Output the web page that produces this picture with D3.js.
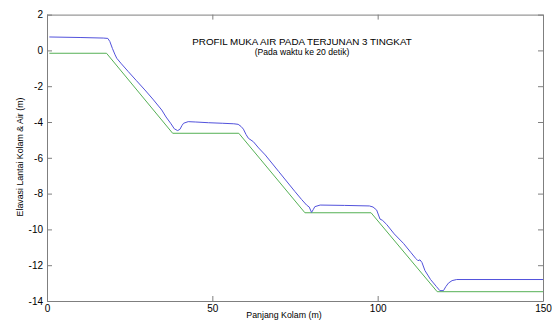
<!DOCTYPE html>
<html>
<head>
<meta charset="utf-8">
<script src="https://cdn.jsdelivr.net/npm/d3@7"></script>
<style>
    body { margin: 0; background: #ffffff; }
    text { font-family: "Liberation Sans", Arial, sans-serif; fill: #000000; }
</style>
</head>
<body>
<div id="chart"></div>
<script>
// Tick values
var xTicks = [0, 50, 100, 150];
var yTicks = [-14, -12, -10, -8, -6, -4, -2, 0, 2];

// Panjang kolam (m) vs elevasi muka air (m)
var airX = [0.7, 10, 17, 18.4, 19.0, 19.8, 20.6, 21.1, 22.5, 24.6, 27, 29.6, 32, 34.7, 36, 37.5, 38.5, 39.5,
    40.2, 40.8, 41.3, 42.7, 45, 48.8, 53, 56.5, 57.8, 58.7, 59.4, 60.2, 60.9, 62.4, 64, 66, 70, 75, 77,
    78.5, 79.3, 80, 80.5, 81, 82.6, 90, 97.5, 98.6, 99.7, 100.7, 101.5, 102.7, 105, 107.8, 110, 111.5,
    112.2, 112.8, 113.4, 114.3, 116, 117.8, 118.8, 119.9, 120.6, 121.4, 122.5, 123.9, 150];
var airY = [0.75, 0.72, 0.69, 0.67, 0.5, 0.1, -0.25, -0.44, -0.75, -1.19, -1.68, -2.21, -2.72, -3.33, -3.72,
    -4.1, -4.38, -4.48, -4.41, -4.2, -4.07, -3.98, -4.0, -4.04, -4.07, -4.1, -4.13, -4.25, -4.4, -4.7,
    -4.91, -5.1, -5.45, -5.84, -6.75, -7.89, -8.33, -8.64, -8.75, -9.05, -8.9, -8.73, -8.64, -8.66,
    -8.69, -8.75, -8.92, -9.42, -9.5, -9.72, -10.25, -10.78, -11.28, -11.62, -11.75, -11.7, -11.85,
    -12.3, -12.8, -13.2, -13.42, -13.42, -13.2, -13.0, -12.86, -12.8, -12.8];

// Panjang kolam (m) vs elevasi lantai kolam (m)
var lantaiX = [0.7, 18, 38, 58, 78, 98, 118, 150];
var lantaiY = [-0.16, -0.16, -4.63, -4.63, -9.07, -9.07, -13.48, -13.48];

var width = 552, height = 323;
var margin = { top: 14.6, right: 9, bottom: 22, left: 47 };

var svg = d3.select("#chart")
    .append("svg")
    .attr("width", width)
    .attr("height", height);

var x = d3.scaleLinear()
    .domain([0, 150])
    .range([margin.left, width - margin.right]);

var y = d3.scaleLinear()
    .domain([-14, 2])
    .range([height - margin.bottom, margin.top]);

var axisColor = "#7f7f7f";
var tickLen = 5;
// plain hyphen for negative numbers, like the original
var fmt = d => String(d);

// Bottom and left axes with tick labels, ticks pointing inward
svg.append("g")
    .attr("transform", "translate(0," + y(-14) + ")")
    .call(d3.axisBottom(x).tickValues(xTicks).tickFormat(fmt).tickSizeInner(-tickLen).tickSizeOuter(0).tickPadding(4))
    .call(g => g.select(".domain").attr("stroke", axisColor))
    .call(g => g.selectAll(".tick line").attr("stroke", axisColor))
    .call(g => g.selectAll(".tick text").attr("font-size", 10).attr("font-family", "Liberation Sans, Arial, sans-serif"));

svg.append("g")
    .attr("transform", "translate(" + x(0) + ",0)")
    .call(d3.axisLeft(y).tickValues(yTicks).tickFormat(fmt).tickSizeInner(-tickLen).tickSizeOuter(0).tickPadding(4))
    .call(g => g.select(".domain").attr("stroke", axisColor))
    .call(g => g.selectAll(".tick line").attr("stroke", axisColor))
    .call(g => g.selectAll(".tick text").attr("font-size", 10).attr("font-family", "Liberation Sans, Arial, sans-serif"));

// Top and right axes: box lines with ticks only
svg.append("g")
    .attr("transform", "translate(0," + y(2) + ")")
    .call(d3.axisTop(x).tickValues(xTicks).tickSizeInner(-tickLen).tickSizeOuter(0).tickFormat(""))
    .call(g => g.select(".domain").attr("stroke", axisColor))
    .call(g => g.selectAll(".tick line").attr("stroke", axisColor));

svg.append("g")
    .attr("transform", "translate(" + x(150) + ",0)")
    .call(d3.axisRight(y).tickValues(yTicks).tickSizeInner(-tickLen).tickSizeOuter(0).tickFormat(""))
    .call(g => g.select(".domain").attr("stroke", axisColor))
    .call(g => g.selectAll(".tick line").attr("stroke", axisColor));

var line = d3.line()
    .x(d => x(d[0]))
    .y(d => y(d[1]));

// Lantai kolam (green)
svg.append("path")
    .datum(d3.zip(lantaiX, lantaiY))
    .attr("fill", "none")
    .attr("stroke", "#55b055")
    .attr("stroke-width", 1)
    .attr("d", line);

// Muka air (blue)
svg.append("path")
    .datum(d3.zip(airX, airY))
    .attr("fill", "none")
    .attr("stroke", "#5252dc")
    .attr("stroke-width", 1)
    .attr("d", line);

// Title
svg.append("text")
    .attr("x", 302)
    .attr("y", 45)
    .attr("text-anchor", "middle")
    .attr("font-size", 9.8)
    .text("PROFIL MUKA AIR PADA TERJUNAN 3 TINGKAT");

svg.append("text")
    .attr("x", 302)
    .attr("y", 55)
    .attr("text-anchor", "middle")
    .attr("font-size", 8.6)
    .text("(Pada waktu ke 20 detik)");

// Axis labels
svg.append("text")
    .attr("x", 284)
    .attr("y", 318)
    .attr("text-anchor", "middle")
    .attr("font-size", 8.8)
    .text("Panjang Kolam (m)");

svg.append("text")
    .attr("transform", "translate(23,157) rotate(-90)")
    .attr("text-anchor", "middle")
    .attr("font-size", 8.8)
    .text("Elavasi Lantai Kolam & Air (m)");
</script>
</body>
</html>
